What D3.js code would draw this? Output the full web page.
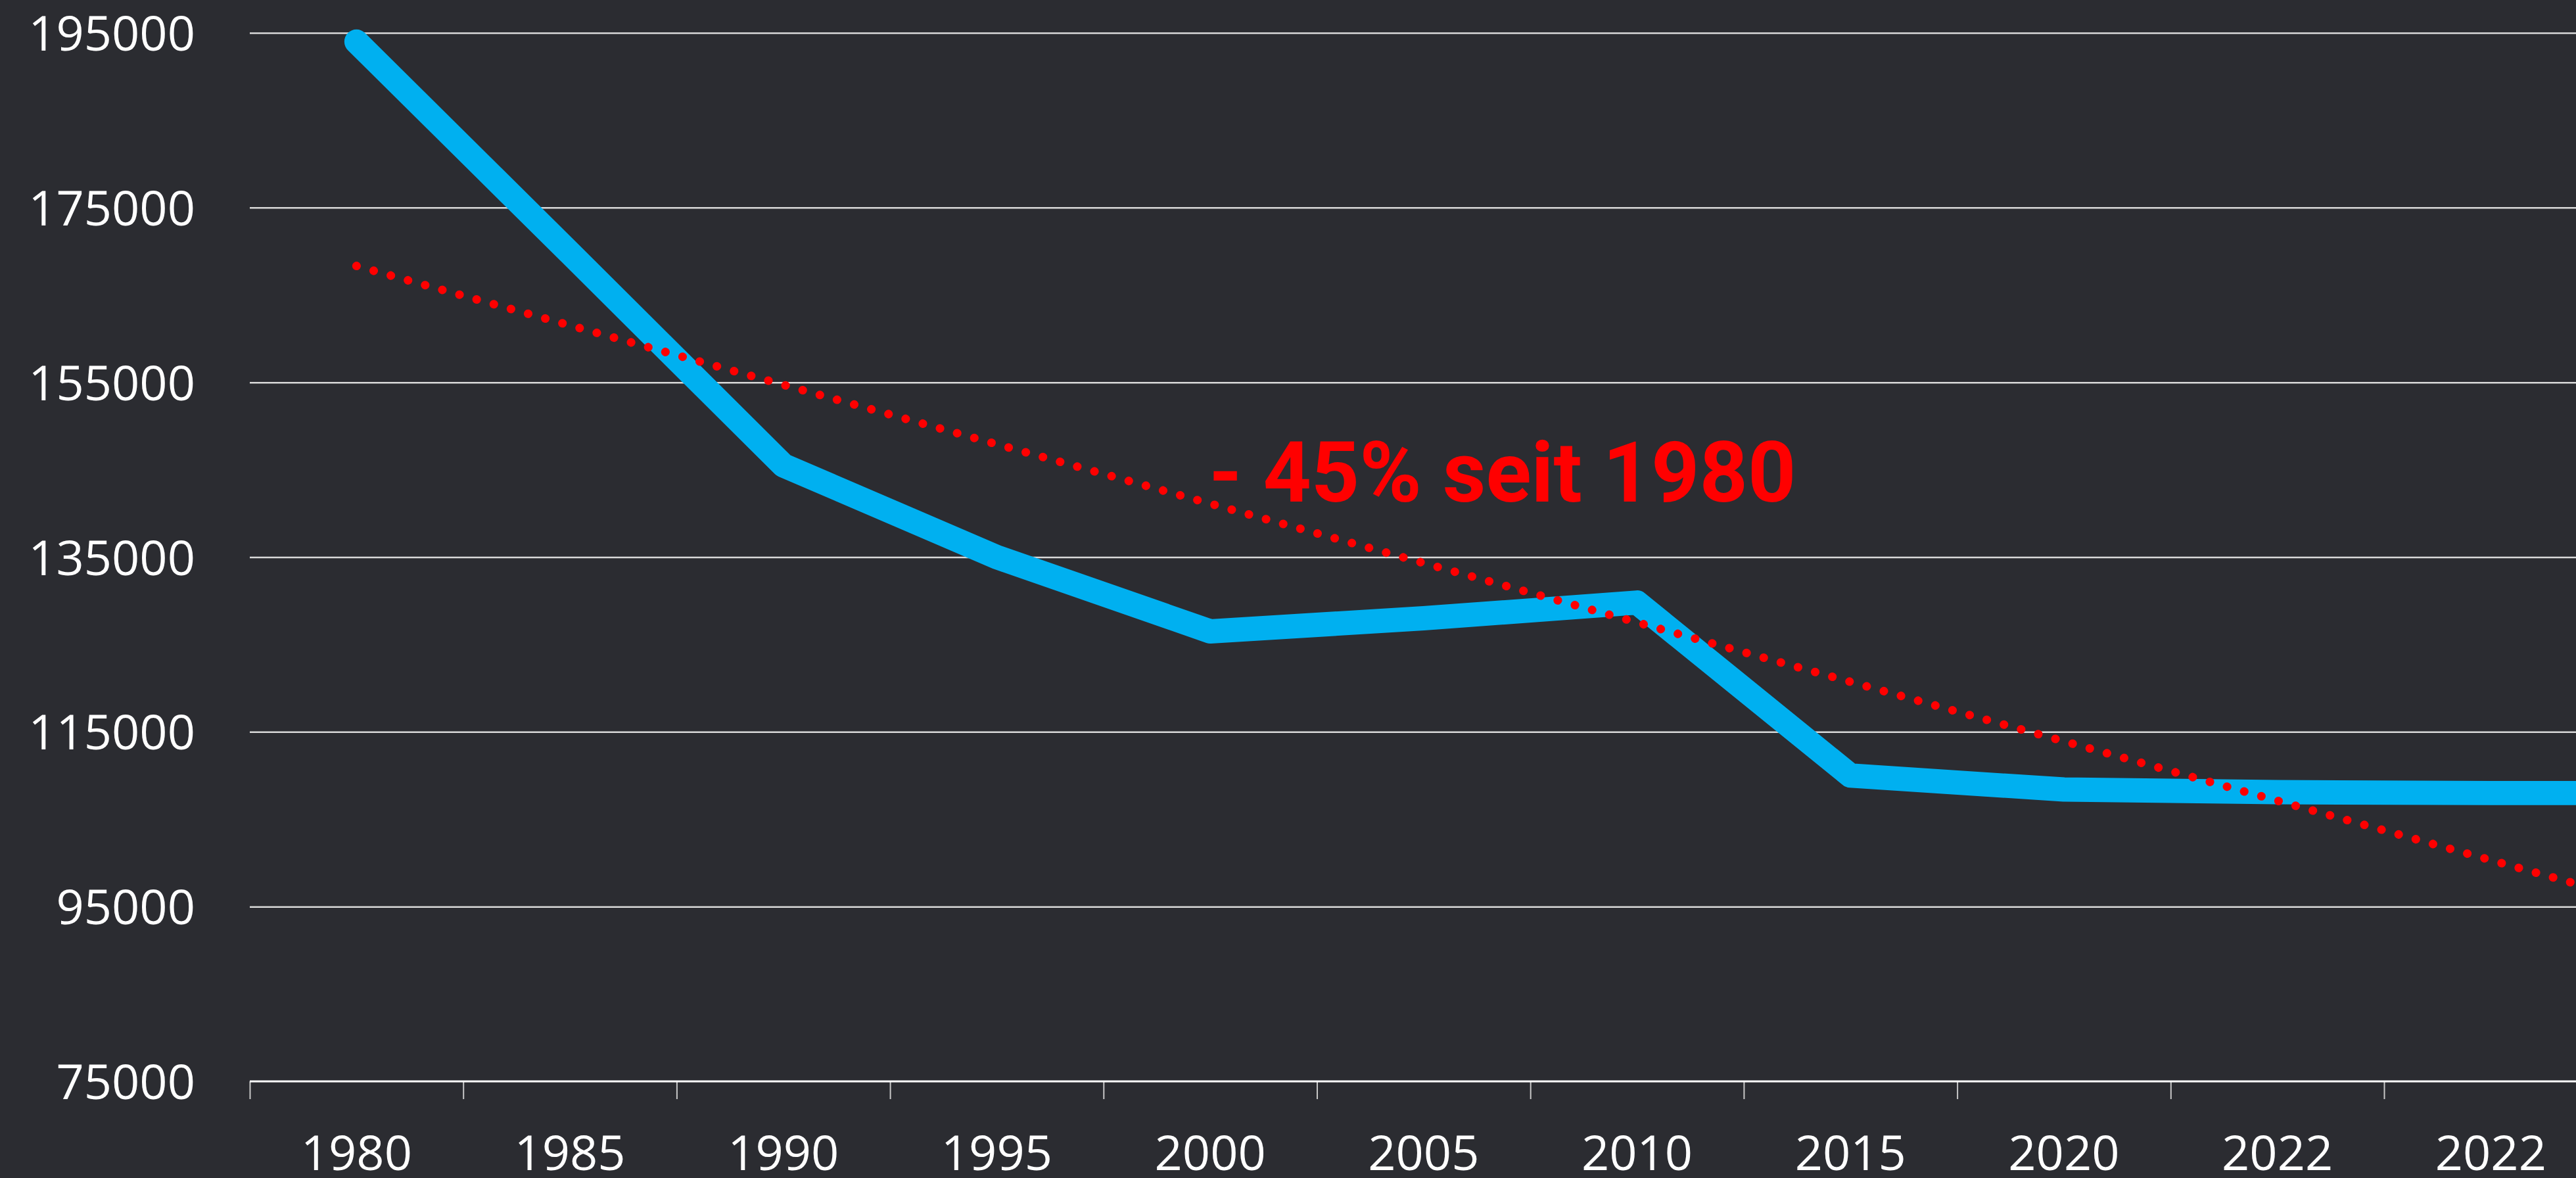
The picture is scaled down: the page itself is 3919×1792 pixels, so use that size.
<!DOCTYPE html>
<html>
<head>
<meta charset="utf-8">
<script src="https://cdn.jsdelivr.net/npm/d3@7"></script>
<style>
  html, body { margin: 0; padding: 0; background: #2b2c31; overflow: hidden; }
  svg { display: block; }
</style>
</head>
<body>
<svg id="chart" width="3919" height="1792"></svg>
<script>
// ---- data ----
const yearLabels = ["1980", "1985", "1990", "1995", "2000", "2005", "2010", "2015", "2020", "2022", "2022"];
// the reference is cut off at the right edge; the line continues flat to one more point beyond the crop
const values = [194000, 169800, 145500, 135000, 126500, 128000, 129800, 110000, 108400, 108100, 108000, 108000];
const yTicks = [75000, 95000, 115000, 135000, 155000, 175000, 195000];
const annotationText = "- 45% seit 1980";

// ---- layout ----
const W = 3919, H = 1792;
const plotLeft = 380, plotBottom = 1645, plotTop = 50;
const bandW = 324.7;

const svg = d3.select("#chart");
svg.append("rect").attr("width", W).attr("height", H).attr("fill", "#2b2c31");

const x = d3.scaleLinear().domain([0, values.length]).range([plotLeft, plotLeft + values.length * bandW]);
const y = d3.scaleLinear().domain([75000, 195000]).range([plotBottom, plotTop]);
const cx = i => x(i + 0.5);

// gridlines
const grid = svg.append("g")
  .call(d3.axisLeft(y).tickValues(yTicks.filter(v => v > 75000)).tickSize(-(W - plotLeft)).tickFormat(""))
  .attr("transform", `translate(${plotLeft},0)`);
grid.select(".domain").remove();
grid.selectAll(".tick line").attr("stroke", "#d9d9d9").attr("stroke-width", 2.5);

// y axis labels
const yAx = svg.append("g")
  .attr("transform", `translate(${plotLeft},0)`)
  .call(d3.axisLeft(y).tickValues(yTicks).tickSize(0).tickPadding(83).tickFormat(d => String(d)));
yAx.select(".domain").remove();
yAx.selectAll("text")
  .attr("fill", "#ffffff")
  .attr("font-family", "'Open Sans', sans-serif")
  .attr("font-size", 74)
  .attr("dy", "0.36em");

// x axis (ticks between categories)
const xAx = svg.append("g")
  .attr("transform", `translate(0,${plotBottom})`)
  .call(d3.axisBottom(x).tickValues(d3.range(0, values.length + 1)).tickSize(27).tickFormat(""));
xAx.select(".domain").remove();
xAx.selectAll(".tick line").attr("stroke", "#c8c8c8").attr("stroke-width", 2);
xAx.append("line")
  .attr("x1", plotLeft).attr("x2", W).attr("y1", 0).attr("y2", 0)
  .attr("stroke", "#ffffff").attr("stroke-width", 3);

svg.append("g").selectAll("text")
  .data(yearLabels)
  .join("text")
  .attr("x", (d, i) => cx(i))
  .attr("y", 1753)
  .attr("dy", "0.36em")
  .attr("text-anchor", "middle")
  .attr("fill", "#ffffff")
  .attr("font-family", "'Open Sans', sans-serif")
  .attr("font-size", 74)
  .text(d => d);

// main line
const line = d3.line().x((d, i) => cx(i)).y(d => y(d));
svg.append("path")
  .datum(values)
  .attr("d", line)
  .attr("fill", "none")
  .attr("stroke", "#00b0f0")
  .attr("stroke-width", 37)
  .attr("stroke-linejoin", "round")
  .attr("stroke-linecap", "round");

// linear trendline (least squares over the series, as the spreadsheet does)
const n = values.length;
const mx = d3.mean(d3.range(n)), my = d3.mean(values);
const slope = d3.sum(values, (v, i) => (i - mx) * (v - my)) / d3.sum(d3.range(n), i => (i - mx) * (i - mx));
const icpt = my - slope * mx;
const trendPts = [0, n - 1].map(i => [cx(i), y(icpt + slope * i)]);
svg.append("path")
  .attr("d", d3.line()(trendPts))
  .attr("fill", "none")
  .attr("stroke", "#ff0000")
  .attr("stroke-width", 13)
  .attr("stroke-linecap", "round")
  .attr("stroke-dasharray", "0.1 27");

// annotation
svg.append("text")
  .attr("x", cx(4) - 2)
  .attr("y", y(141350))
  .attr("fill", "#ff0000")
  .attr("font-family", "Roboto, sans-serif")
  .attr("font-weight", "bold")
  .attr("font-size", 128)
  .text(annotationText);
</script>
</body>
</html>
